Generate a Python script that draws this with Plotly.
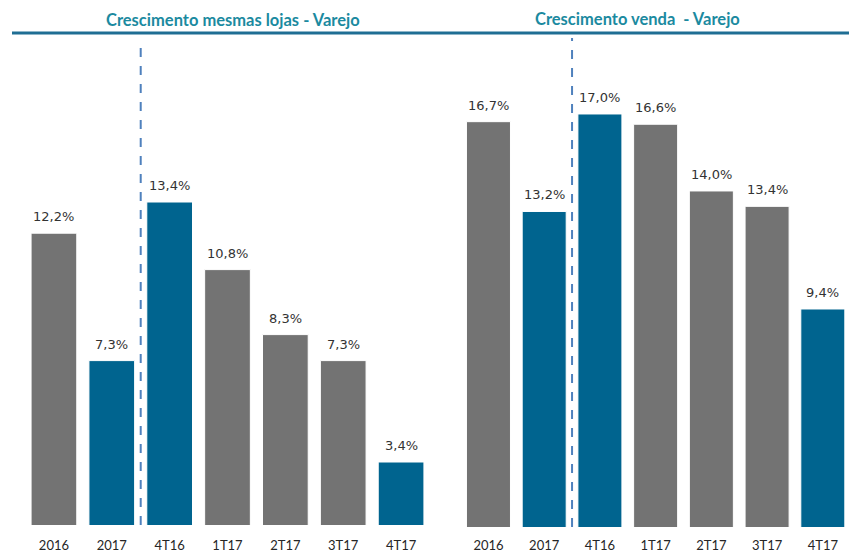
import plotly.graph_objects as go

# dados
periodos = ['2016', '2017', '4T16', '1T17', '2T17', '3T17', '4T17']
mesmas_lojas = [12.2, 7.3, 13.4, 10.8, 8.3, 7.3, 3.4]
venda = [16.7, 13.2, 17.0, 16.6, 14.0, 13.4, 9.4]
cores_mesmas = ['#737373', '#00648F', '#00648F', '#737373', '#737373', '#737373', '#00648F']
cores_venda = ['#737373', '#00648F', '#00648F', '#737373', '#737373', '#737373', '#00648F']

W, H = 849, 554
FONTE = 'Lato, Liberation Sans, sans-serif'

fig = go.Figure()

fig.add_trace(go.Bar(x=periodos, y=mesmas_lojas, marker_color=cores_mesmas,
                     marker_line=dict(color='white', width=1),
                     xaxis='x', yaxis='y', showlegend=False))
fig.add_trace(go.Bar(x=periodos, y=venda, marker_color=cores_venda,
                     marker_line=dict(color='white', width=1),
                     xaxis='x2', yaxis='y2', showlegend=False))

# rótulos de dados
def fmt(v):
    return f'{v:.1f}%'.replace('.', ',')

anns = []
for i, v in enumerate(mesmas_lojas):
    anns.append(dict(x=i, y=v, xref='x', yref='y', text=fmt(v), showarrow=False,
                     yanchor='bottom', yshift=7, font=dict(size=13, color='#333333', family='DejaVu Sans')))
for i, v in enumerate(venda):
    anns.append(dict(x=i, y=v, xref='x2', yref='y2', text=fmt(v), showarrow=False,
                     yanchor='bottom', yshift=7, font=dict(size=13, color='#333333', family='DejaVu Sans')))

# títulos
anns.append(dict(x=233 / W, y=1 - 20 / H, xref='paper', yref='paper', showarrow=False,
                 xanchor='center', yanchor='middle',
                 text='<b>Crescimento mesmas lojas - Varejo</b>',
                 font=dict(size=16.5, color='#1B8AA0', family=FONTE)))
anns.append(dict(x=637 / W, y=1 - 19 / H, xref='paper', yref='paper', showarrow=False,
                 xanchor='center', yanchor='middle',
                 text='<b>Crescimento venda  - Varejo</b>',
                 font=dict(size=16.5, color='#1B8AA0', family=FONTE)))

shapes = [
    dict(type='line', xref='paper', yref='paper', x0=12 / W, x1=1, y0=1 - 33 / H, y1=1 - 33 / H,
         line=dict(color='#1F6E94', width=3)),
    dict(type='line', xref='x', yref='paper', x0=1.5, x1=1.5, y0=1 - 525 / H, y1=1 - 40 / H,
         line=dict(color='#4F81BD', width=2, dash='dash')),
    dict(type='line', xref='x2', yref='paper', x0=1.5, x1=1.5, y0=1 - 527 / H, y1=1 - 38 / H,
         line=dict(color='#4F81BD', width=2, dash='dash')),
]

eixo_x = dict(type='category', showgrid=False, zeroline=False, showline=False,
              ticks='outside', tickcolor='rgba(0,0,0,0)',
              tickfont=dict(size=13, color='#262626', family=FONTE), automargin=False)

fig.update_layout(
    width=W, height=H,
    margin=dict(l=0, r=0, t=0, b=0),
    paper_bgcolor='white', plot_bgcolor='white',
    bargap=0.21,
    xaxis=dict(eixo_x, ticklen=8, domain=[25 / W, 430 / W], range=[-0.5, 6.5], anchor='y'),
    xaxis2=dict(eixo_x, ticklen=6, domain=[460.6 / W, 1.0], range=[-0.5, 6.47], anchor='y2'),
    yaxis=dict(domain=[1 - 525 / H, 1], range=[0.977, 0.977 + 525 / 26.0], visible=False),
    yaxis2=dict(domain=[1 - 527 / H, 1], range=[0.904, 0.904 + 527 / 25.66], visible=False),
    annotations=anns,
    shapes=shapes,
)

fig.write_html('out.html', config={'displayModeBar': False},
               post_script="document.body.style.margin='0';")
